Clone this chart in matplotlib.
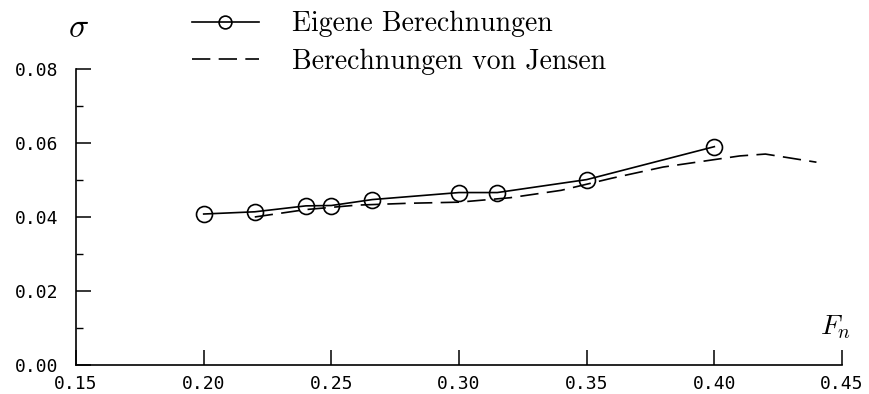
import numpy as np
import matplotlib
matplotlib.use('Agg')
from matplotlib import pyplot as plt
from matplotlib.ticker import MultipleLocator

plt.rcParams['mathtext.fontset'] = 'cm'

# Daten ------------------------------------------------------------------

fn_eigen = [0.20, 0.22, 0.24, 0.25, 0.266, 0.30, 0.315, 0.35, 0.40]
sig_eigen = [0.0408, 0.0414, 0.0430, 0.0431, 0.0447, 0.0466, 0.0466, 0.0501, 0.0590]

fn_jensen = [0.22, 0.24, 0.26, 0.28, 0.30, 0.32, 0.34, 0.36, 0.38, 0.40, 0.41, 0.42, 0.44]
sig_jensen = [0.0400, 0.0420, 0.0432, 0.0437, 0.0440, 0.0452, 0.0472, 0.0505, 0.0535,
              0.0555, 0.0565, 0.0570, 0.0548]

xticks = [0.15, 0.20, 0.25, 0.30, 0.35, 0.40, 0.45]
yticks = [0.00, 0.02, 0.04, 0.06, 0.08]

# Plot -------------------------------------------------------------------

fig = plt.figure(figsize=(8.7, 3.94), dpi=100)
ax = fig.add_axes([0.0874, 0.0736, 0.8804, 0.7514])

l1, = ax.plot(fn_eigen, sig_eigen, '-', c='k', lw=1.2, marker='o', ms=11.5,
              mfc='none', mec='k', mew=1.2)
l2, = ax.plot(fn_jensen, sig_jensen, c='k', lw=1.2, dashes=(11, 5))

ax.set_xlim(0.15, 0.45)
ax.set_ylim(0.0, 0.08)
ax.set_xticks(xticks)
ax.set_yticks(yticks)
ax.set_xticklabels(['%.2f' % v for v in xticks])
ax.set_yticklabels(['%.2f' % v for v in yticks])
ax.yaxis.set_minor_locator(MultipleLocator(0.01))

for s in ['top', 'right']:
    ax.spines[s].set_visible(False)
for s in ['left', 'bottom']:
    ax.spines[s].set_linewidth(1.2)

ax.tick_params(axis='both', which='major', direction='in', length=11, width=1.1,
               labelsize=13)
ax.tick_params(axis='y', which='minor', direction='in', length=5, width=1.0)
ax.tick_params(axis='x', pad=7)
ax.tick_params(axis='y', pad=13)
for lab in ax.get_xticklabels() + ax.get_yticklabels():
    lab.set_family('DejaVu Sans Mono')

fig.text(0.0897, 0.931, r'$\sigma$', fontsize=24, ha='center', va='center')
fig.text(0.96, 0.17, r'$F_n$', fontsize=20, ha='center', va='center')

fig.legend([l1, l2], ['Eigene Berechnungen', 'Berechnungen von Jensen'],
           loc='upper left', bbox_to_anchor=(0.2207, 0.972), frameon=False,
           borderpad=0, borderaxespad=0, handlelength=2.4, handletextpad=1.2,
           labelspacing=0.4, prop={'family': 'cmr10', 'size': 20}, markerscale=0.8)

plt.savefig('out.png', dpi=100)
